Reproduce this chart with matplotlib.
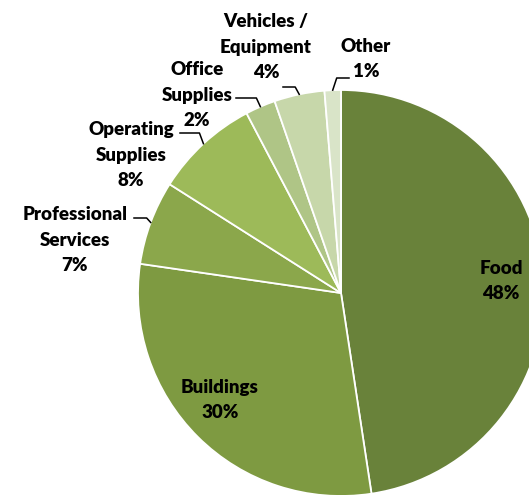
import numpy as np
import matplotlib.pyplot as plt

plt.rcParams['font.family'] = ['Lato', 'DejaVu Sans']

# spending share by category (percent)
categories = ['Food', 'Buildings', 'Professional\nServices', 'Operating\nSupplies',
              'Office\nSupplies', 'Vehicles /\nEquipment', 'Other']
shares = [47.6, 29.7, 6.7, 8.3, 2.4, 4.0, 1.3]
colors = ['#69823a', '#7e9a41', '#8ba74b', '#9dba59', '#afc586', '#c7d7aa', '#d9e4c8']

W, H = 529, 495
CX, CY, R = 341, 293, 203


def px(x, y):
    # pixel position -> data coordinates of the pie axes
    return (x - CX) / R, (CY - y) / R


fig = plt.figure(figsize=(W / 100, H / 100), dpi=100)
ax = fig.add_axes([0, 0, 1, 1])
ax.axis('off')

wedges, _ = ax.pie(shares, colors=colors, startangle=90, counterclock=False,
                   radius=1, center=(0, 0),
                   wedgeprops=dict(edgecolor='white', linewidth=1.3))
ax.set_aspect('equal')
ax.set_xlim(px(0, 0)[0], px(W, 0)[0])
ax.set_ylim(px(0, H)[1], px(0, 0)[1])

labels = [f'{c}\n{s:.0f}%' for c, s in zip(categories, shares)]

# label centres in pixels
label_pos = [(501, 281), (220, 400), (75, 240), (131, 155),
             (197, 95), (266, 47), (366, 59)]
# leader lines: (elbow y, horizontal end x) in pixels, None for inside labels
leaders = [None, None, (218, 134), (133, 180), (98, 236), (87, 283), (78, 349)]

for w, lab, pos, ld in zip(wedges, labels, label_pos, leaders):
    ax.text(*px(*pos), lab, ha='center', va='center', fontsize=13.5,
            fontweight='heavy', color='black', linespacing=1.6)
    if ld is None:
        continue
    mid = np.deg2rad((w.theta1 + w.theta2) / 2)
    ex, ey = np.cos(mid), np.sin(mid)
    ey_px = CY - ey * R
    ex_px = CX + ex * R
    elbow_y, end_x = ld
    step = np.sign(end_x - ex_px) * 4
    pts = [px(ex_px, ey_px), px(ex_px + step, elbow_y), px(end_x, elbow_y)]
    ax.plot([p[0] for p in pts], [p[1] for p in pts], color='black', lw=1.1)

fig.savefig('out.png', dpi=100)
